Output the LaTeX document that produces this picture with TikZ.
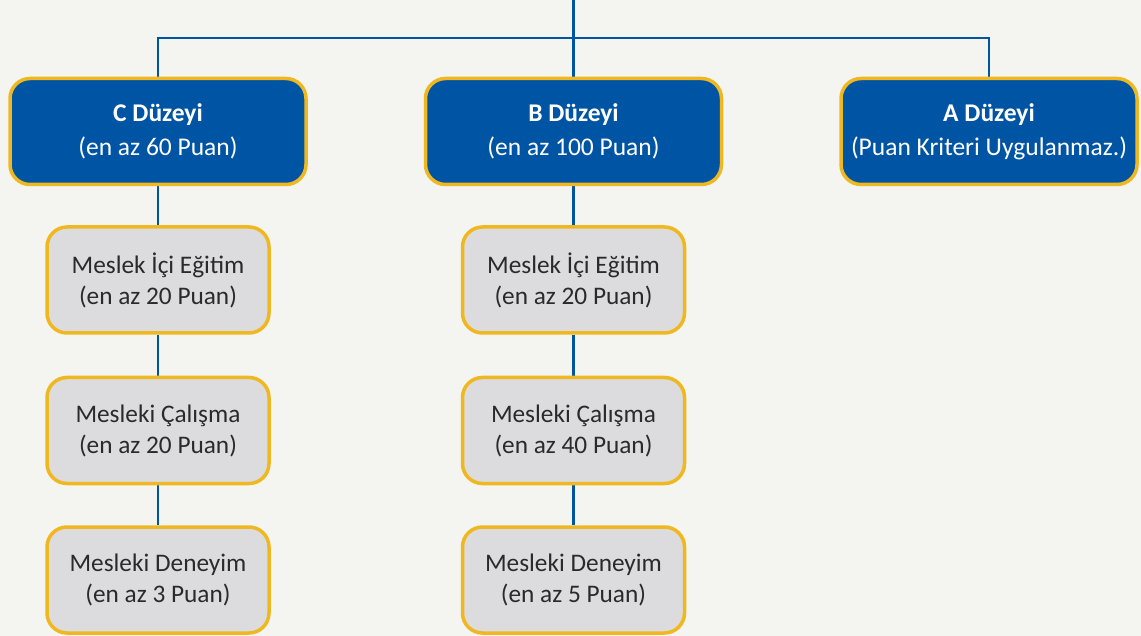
\documentclass[tikz,border=0pt]{standalone}
\usepackage{fontspec}
\setmainfont{Carlito}
\usetikzlibrary{backgrounds}
\definecolor{bg}{HTML}{F4F4F0}
\definecolor{blu}{HTML}{0054A4}
\definecolor{ylw}{HTML}{F0B820}
\definecolor{gry}{HTML}{DCDCDE}
\definecolor{txt}{HTML}{2A2A2A}
\begin{document}
\begin{tikzpicture}[x=1pt,y=1pt,
  lvl/.style={draw=ylw, line width=3.5pt, fill=blu, rounded corners=20pt,
    minimum width=296pt, minimum height=106pt, text=white, align=center,
    inner sep=0pt, font=\fontsize{25.5}{34}\selectfont},
  item/.style={draw=ylw, line width=3.5pt, fill=gry, rounded corners=20pt,
    minimum width=222pt, minimum height=106pt, text=txt, align=center,
    inner sep=0pt, font=\fontsize{25.3}{31}\selectfont},
  conn/.style={draw=blu, line width=2.6pt}]
\useasboundingbox (0,0) rectangle (1141,-636);

\node[lvl] (C) at (158,-131.5) {\textbf{C Düzeyi}\\(en az 60 Puan)};
\node[lvl] (B) at (573.5,-131.5) {\textbf{B Düzeyi}\\(en az 100 Puan)};
\node[lvl] (A) at (989,-131.5) {\textbf{A Düzeyi}\\(Puan Kriteri Uygulanmaz.)};

\node[item] (C1) at (158,-280) {Meslek İçi Eğitim\\(en az 20 Puan)};
\node[item] (C2) at (158,-430.5) {Mesleki Çalışma\\(en az 20 Puan)};
\node[item] (C3) at (158,-580) {Mesleki Deneyim\\(en az 3 Puan)};

\node[item] (B1) at (573.5,-280) {Meslek İçi Eğitim\\(en az 20 Puan)};
\node[item] (B2) at (573.5,-430.5) {Mesleki Çalışma\\(en az 40 Puan)};
\node[item] (B3) at (573.5,-580) {Mesleki Deneyim\\(en az 5 Puan)};

\coordinate (top) at (573.5,0);
\coordinate (j) at (573.5,-38);

\begin{scope}[on background layer]
\fill[bg] (0,0) rectangle (1141,-636);
\draw[conn] (top) -- (j);
\draw[conn] (C.north) |- (j) -| (A.north);
\draw[conn] (j) -- (B.north);
\draw[conn] (C.south) -- (C1.north);
\draw[conn] (C1.south) -- (C2.north);
\draw[conn] (C2.south) -- (C3.north);
\draw[conn] (B.south) -- (B1.north);
\draw[conn] (B1.south) -- (B2.north);
\draw[conn] (B2.south) -- (B3.north);
\end{scope}
\end{tikzpicture}
\end{document}
